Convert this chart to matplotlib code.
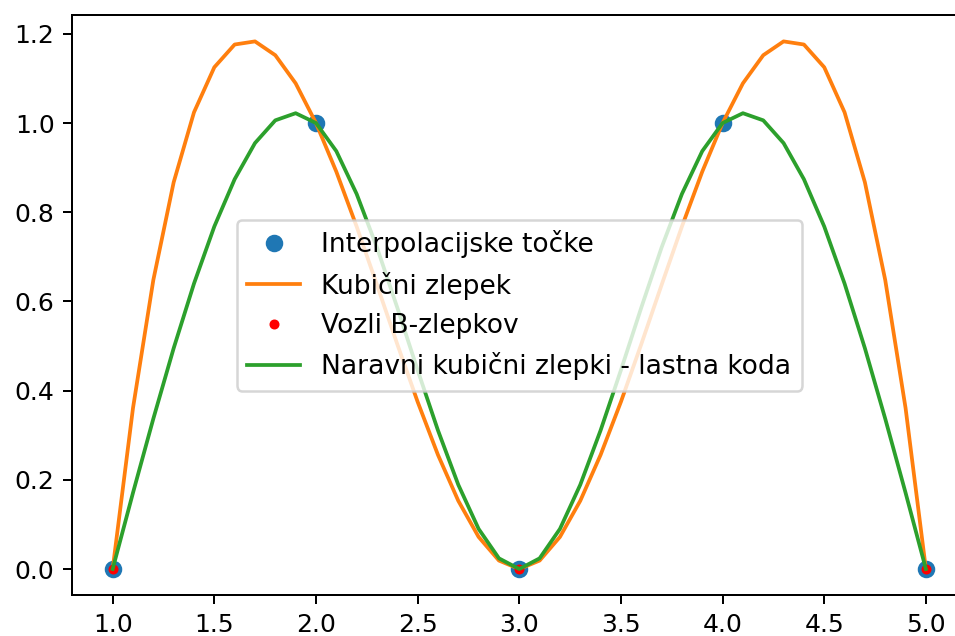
import matplotlib
matplotlib.use("Agg")
import matplotlib.pyplot as plt

# interpolacijske tocke
x_tocke = [1, 2, 3, 4, 5]
y_tocke = [0, 1, 0, 1, 0]

# vozli B-zlepkov
x_vozli = [1, 3, 5]
y_vozli = [0, 0, 0]

# vrednosti zlepkov na mrezi (korak 0.1)
x_mreza = [1.0, 1.1, 1.2, 1.3, 1.4, 1.5, 1.6, 1.7, 1.8, 1.9,
           2.0, 2.1, 2.2, 2.3, 2.4, 2.5, 2.6, 2.7, 2.8, 2.9,
           3.0, 3.1, 3.2, 3.3, 3.4, 3.5, 3.6, 3.7, 3.8, 3.9,
           4.0, 4.1, 4.2, 4.3, 4.4, 4.5, 4.6, 4.7, 4.8, 4.9, 5.0]

y_kubicni = [0.000, 0.361, 0.648, 0.867, 1.024, 1.125, 1.176, 1.183, 1.152, 1.089,
             1.000, 0.891, 0.768, 0.637, 0.504, 0.375, 0.256, 0.153, 0.072, 0.019,
             0.000, 0.019, 0.072, 0.153, 0.256, 0.375, 0.504, 0.637, 0.768, 0.891,
             1.000, 1.089, 1.152, 1.183, 1.176, 1.125, 1.024, 0.867, 0.648, 0.361, 0.000]

y_naravni = [0.000, 0.171, 0.337, 0.495, 0.640, 0.768, 0.874, 0.955, 1.006, 1.022,
             1.000, 0.937, 0.841, 0.721, 0.586, 0.446, 0.311, 0.189, 0.090, 0.024,
             0.000, 0.024, 0.090, 0.189, 0.311, 0.446, 0.586, 0.721, 0.841, 0.937,
             1.000, 1.022, 1.006, 0.955, 0.874, 0.768, 0.640, 0.495, 0.337, 0.171, 0.000]

fig = plt.figure(figsize=(955 / 180, 636 / 180), dpi=180)
# desni rob osi je izven slike (kot v originalu)
ax = fig.add_axes([0.0754, 0.0638, 0.9367, 0.9126])

ax.plot(x_tocke, y_tocke, 'o', label='Interpolacijske točke')
ax.plot(x_mreza, y_kubicni, label='Kubični zlepek')
ax.plot(x_vozli, y_vozli, 'r.', label='Vozli B-zlepkov')
ax.plot(x_mreza, y_naravni, label='Naravni kubični zlepki - lastna koda')
ax.legend(loc='center', fontsize=10.6)

fig.savefig('out.png', dpi=180)
